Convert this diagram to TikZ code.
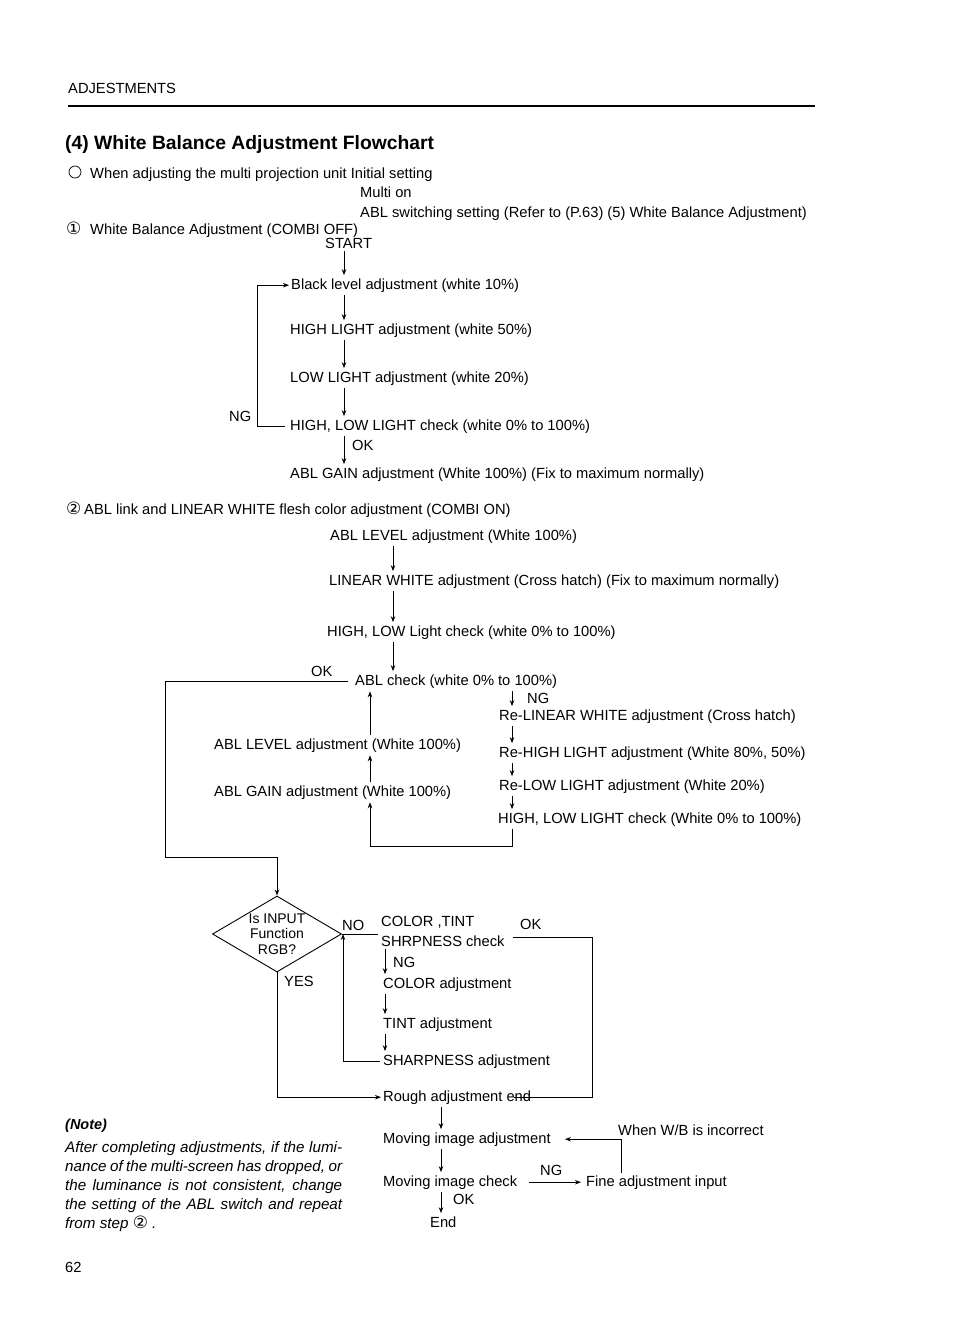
\documentclass[tikz,border=0pt]{standalone}
\usepackage{fontspec}
\setmainfont{Liberation Sans}
\newfontfamily\dvsym{DejaVu Sans}
\newcommand\circnum[1]{{\dvsym\fontsize{17}{18}\selectfont #1}}
\usetikzlibrary{arrows.meta,shapes.geometric}
\begin{document}
\begin{tikzpicture}[x=1pt,y=-1pt,
  every node/.style={inner sep=0pt, font=\fontsize{14.7}{18}\selectfont},
  t/.style={anchor=base west},
  ln/.style={line width=0.9pt},
  arr/.style={line width=0.9pt, -{Stealth[length=6pt,width=4.5pt]}},
  vc/.style={arr, shorten <=3pt, shorten >=3pt},
  notefont/.style={font=\itshape\fontsize{15.2}{17}\selectfont},
]
\fill[white] (0,0) rectangle (954,1336);
% x positions of vertical connectors
\coordinate (xa) at (344,0);
\coordinate (xb) at (393,0);
\coordinate (xc) at (512,0);
\coordinate (xd) at (370,0);
\coordinate (xe) at (385,0);
\coordinate (xf) at (343,0);
\coordinate (xg) at (441,0);
\coordinate (xh) at (621,0);
\coordinate (lp1) at (257,0);
\coordinate (lp2) at (165,857);
\coordinate (lp3) at (0,846);
\coordinate (okc) at (592,937);

% header
\node[t] (hdr) at (68,93) {ADJESTMENTS};
\draw[line width=1.6pt] (68,106) -- (815,106);
\node[t,font=\bfseries\fontsize{19.3}{22}\selectfont] (title) at (65,149.5) {(4) White Balance Adjustment Flowchart};
\node[draw,circle,minimum size=12pt,line width=0.7pt] (circ) at (75,172) {};
\node[t] (init) at (90,178) {When adjusting the multi projection unit Initial setting};
\node[t] (multi) at (360,197) {Multi on};
\node[t] (abls) at (360,217) {ABL switching setting (Refer to (P.63) (5) White Balance Adjustment)};
\node[t] (one) at (66,234.5) {\makebox[24pt][l]{\circnum{①}}White Balance Adjustment (COMBI OFF)};

% part 1
\node[t] (start) at (325,248) {START};
\node[t] (bl) at (291,289) {Black level adjustment (white 10\%)};
\node[t] (hl) at (290,334) {HIGH LIGHT adjustment (white 50\%)};
\node[t] (ll) at (290,382) {LOW LIGHT adjustment (white 20\%)};
\node[t] (hlc) at (290,430) {HIGH, LOW LIGHT check (white 0\% to 100\%)};
\node[t] (ng1) at (229,421) {NG};
\node[t] (ok1) at (352,450) {OK};
\node[t] (ablg) at (290,478) {ABL GAIN adjustment (White 100\%) (Fix to maximum normally)};

\draw[vc] (start.south -| xa) -- (bl.north -| xa);
\draw[vc] (bl.south -| xa) -- (hl.north -| xa);
\draw[vc] (hl.south -| xa) -- (ll.north -| xa);
\draw[vc] (ll.south -| xa) -- (hlc.north -| xa);
\draw[vc] (hlc.south -| xa) -- (ablg.north -| xa);
\draw[arr, shorten <=5pt, shorten >=2pt] (hlc.west) -- (hlc.west -| lp1) -- (bl.west -| lp1) -- (bl.west);

% part 2
\node[t] (two) at (66,514.5) {\makebox[18pt][l]{\circnum{②}}ABL link and LINEAR WHITE flesh color adjustment (COMBI ON)};
\node[t] (abll) at (330,540) {ABL LEVEL adjustment (White 100\%)};
\node[t] (lw) at (329,585) {LINEAR WHITE adjustment (Cross hatch) (Fix to maximum normally)};
\node[t] (hlc2) at (327,636) {HIGH, LOW Light check (white 0\% to 100\%)};
\node[t] (ablc) at (355,685) {ABL check (white 0\% to 100\%)};
\node[t] (ok2) at (311,676) {OK};
\node[t] (ng2) at (527,703) {NG};
\node[t] (rlw) at (499,720) {Re-LINEAR WHITE adjustment (Cross hatch)};
\node[t] (rhl) at (499,757) {Re-HIGH LIGHT adjustment (White 80\%, 50\%)};
\node[t] (rll) at (499,790) {Re-LOW LIGHT adjustment (White 20\%)};
\node[t] (hlc3) at (498,823) {HIGH, LOW LIGHT check (White 0\% to 100\%)};
\node[t] (abll2) at (214,749) {ABL LEVEL adjustment (White 100\%)};
\node[t] (ablg2) at (214,796) {ABL GAIN adjustment (White 100\%)};

\draw[vc] (abll.south -| xb) -- (lw.north -| xb);
\draw[vc] (lw.south -| xb) -- (hlc2.north -| xb);
\draw[vc] (hlc2.south -| xb) -- (ablc.north -| xb);
\draw[vc] (ablc.south -| xc) -- (rlw.north -| xc);
\draw[vc] (rlw.south -| xc) -- (rhl.north -| xc);
\draw[vc] (rhl.south -| xc) -- (rll.north -| xc);
\draw[vc] (rll.south -| xc) -- (hlc3.north -| xc);
\draw[vc] (hlc3.south -| xc) -- (lp3 -| xc) -- (lp3 -| xd) -- (ablg2.south -| xd);
\draw[vc] (ablg2.north -| xd) -- (abll2.south -| xd);
\draw[vc] (abll2.north -| xd) -- (ablc.south -| xd);

% diamond part
\node[draw,diamond,aspect=1.7,minimum width=129pt,minimum height=76pt,line width=0.9pt,align=center,font=\fontsize{14}{15.5}\selectfont] (dia) at (277,934) {Is INPUT\\Function\\RGB?};
\draw[arr, shorten <=7pt] (ablc.west) -- (ablc.west -| lp2) -- (lp2) -- (lp2 -| dia.north) -- (dia.north);

\node[t] (no) at (342,930) {NO};
\node[anchor=west,align=left,font=\fontsize{14.7}{20}\selectfont] (ct) at (381,931) {COLOR ,TINT\\SHRPNESS check};
\node[t] (ok3) at (520,929) {OK};
\node[t] (ng3) at (393,967) {NG};
\node[t] (ca) at (383,988) {COLOR adjustment};
\node[t] (ta) at (383,1028) {TINT adjustment};
\node[t] (sa) at (383,1065) {SHARPNESS adjustment};
\node[t] (yes) at (284,986) {YES};
\node[t] (rough) at (383,1101) {Rough adjustment end};

\draw[ln, shorten >=3pt] (dia.east) -- (dia.east -| ct.west);
\draw[vc] (ct.south -| xe) -- (ca.north -| xe);
\draw[vc] (ca.south -| xe) -- (ta.north -| xe);
\draw[vc] (ta.south -| xe) -- (sa.north -| xe);
\draw[arr, shorten <=3pt] (sa.west) -- (sa.west -| xf) -- (dia.east -| xf);
\draw[ln, shorten <=8pt, shorten >=-17pt] (ct.east |- okc) -- (okc) -- (okc |- rough.east) -- (rough.east);
\draw[arr, shorten >=2pt] (dia.south) -- (dia.south |- rough.west) -- (rough.west);

% bottom part
\node[t] (mia) at (383,1143) {Moving image adjustment};
\node[t] (wb) at (618,1135) {When W/B is incorrect};
\node[t] (mic) at (383,1186) {Moving image check};
\node[t] (ng4) at (540,1175) {NG};
\node[t] (fai) at (586,1186) {Fine adjustment input};
\node[t] (ok4) at (453,1204) {OK};
\node[t] (endn) at (430,1227) {End};

\draw[vc] (rough.south -| xg) -- (mia.north -| xg);
\draw[vc] (mia.south -| xg) -- (mic.north -| xg);
\draw[vc] (mic.south -| xg) -- (endn.north -| xg);
\draw[arr, shorten <=12pt, shorten >=5pt] (mic.east) -- (fai.west);
\draw[arr, shorten <=2pt, shorten >=14pt] (fai.north -| xh) -- (mia.east -| xh) -- (mia.east);

% note
\node[t,font=\bfseries\itshape\fontsize{14.5}{17}\selectfont] (note) at (65,1129) {(Note)};
\node[t,notefont] (n1) at (65,1152) {\makebox[277pt][s]{After completing adjustments, if the lumi-}};
\node[t,notefont] (n2) at (65,1171) {\makebox[277pt][s]{nance of the multi-screen has dropped, or}};
\node[t,notefont] (n3) at (65,1190) {\makebox[277pt][s]{the luminance is not consistent, change}};
\node[t,notefont] (n4) at (65,1209) {\makebox[277pt][s]{the setting of the ABL switch and repeat}};
\node[t,notefont] (n5) at (65,1228) {from step {\upshape\circnum{②}} .};
\node[t] (page) at (65,1272) {62};
\end{tikzpicture}
\end{document}
